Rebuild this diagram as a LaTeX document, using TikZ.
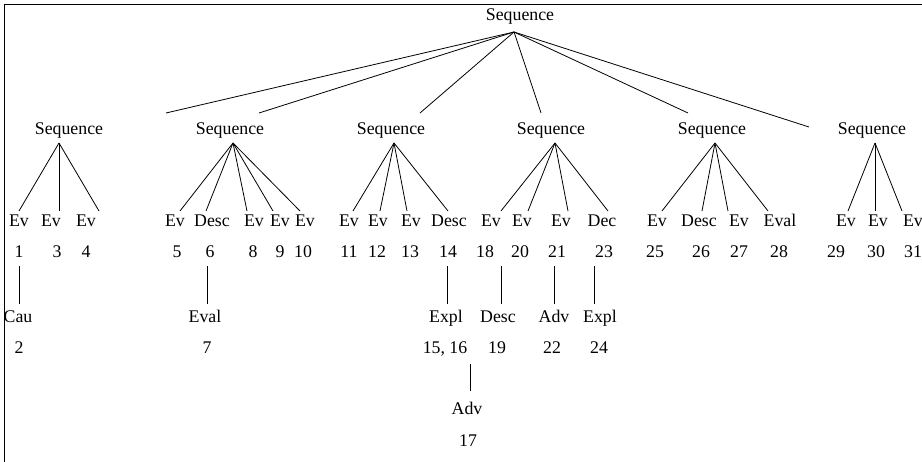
\documentclass[tikz,border=0pt]{standalone}
\usepackage{fontspec}
\setmainfont{Liberation Serif}
\begin{document}
\begin{tikzpicture}[x=1pt,y=-1pt,
  lbl/.style={anchor=base,inner sep=0pt,font=\fontsize{17.8}{20}\selectfont},
  edge/.style={line width=0.8pt,black}]
\useasboundingbox (0,0) rectangle (922,462);
\draw[edge] (4,462) -- (4,4) -- (922,4);
% root
\node[lbl] (root) at (520,21) {Sequence};
\coordinate (r0) at (514,32);
% level-2 sequences
\node[lbl] (s1) at (69,135) {Sequence};
\node[lbl] (s2) at (230,135) {Sequence};
\node[lbl] (s3) at (391,135) {Sequence};
\node[lbl] (s4) at (551,135) {Sequence};
\node[lbl] (s5) at (712,135) {Sequence};
\node[lbl] (s6) at (872,135) {Sequence};
\coordinate (e1) at (166,113);
\coordinate (e2) at (259,113);
\coordinate (e3) at (420,113);
\coordinate (e4) at (541,113);
\coordinate (e5) at (688,113);
\coordinate (e6) at (809,127);
\foreach \i in {1,...,6} \draw[edge] (r0) -- (e\i);
% apexes
\coordinate (a1) at (59,143);
\coordinate (a2) at (233,143);
\coordinate (a3) at (394,143);
\coordinate (a4) at (555,143);
\coordinate (a5) at (715,143);
\coordinate (a6) at (875,143);
% leaves: Ev row
\foreach \n/\lab/\x/\num/\nx/\lx/\ap in {
  1/Ev/19/1/19/19/a1, 3/Ev/51/3/57/59/a1, 4/Ev/86/4/86/99/a1,
  5/Ev/175/5/177/180/a2, 6/Desc/212/6/210/206/a2, 8/Ev/254/8/253/247/a2, 9/Ev/280/9/280/273/a2, 10/Ev/305/10/303/300/a2,
  11/Ev/349/11/349/353/a3, 12/Ev/378/12/377/380/a3, 13/Ev/411/13/410/407/a3, 14/Desc/449/14/448/448/a3,
  18/Ev/491/18/485/501/a4, 20/Ev/522/20/520/528/a4, 21/Ev/561/21/557/568/a4, 23/Dec/602/23/604/608/a4,
  25/Ev/657/25/655/662/a5, 26/Desc/699/26/701/702/a5, 27/Ev/739/27/739/728/a5, 28/Eval/780/28/779/768/a5,
  29/Ev/846/29/836/848/a6, 30/Ev/878/30/876/875/a6, 31/Ev/913/31/913/902/a6}{
  \node[lbl] (t\n) at (\x,227) {\lab};
  \node[lbl] (n\n) at (\nx,258) {\num};
  \coordinate (c\n) at (\lx,211);
  \draw[edge] (\ap) -- (c\n);
}
% third row
\foreach \n/\lab/\x/\num/\nx/\lx in {
  2/Cau/18/2/19/19, 7/Eval/205/7/207/207, 15/Expl/446/{15, 16}/445/447,
  19/Desc/498/19/497/501, 22/Adv/554/22/552/554, 24/Expl/600/24/599/594}{
  \node[lbl] (t\n) at (\x,323) {\lab};
  \node[lbl] (n\n) at (\nx,354) {\num};
  \coordinate (u\n) at (\lx,266);
  \coordinate (v\n) at (\lx,304);
  \draw[edge] (u\n) -- (v\n);
}
% fourth row
\node[lbl] (t17) at (467,415) {Adv};
\node[lbl] (n17) at (468,447) {17};
\coordinate (u17) at (470,364);
\coordinate (v17) at (470,391);
\draw[edge] (u17) -- (v17);
\end{tikzpicture}
\end{document}
